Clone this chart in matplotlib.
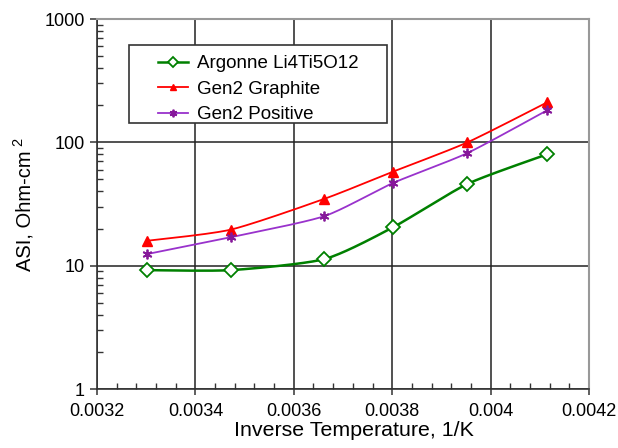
import numpy as np
import matplotlib
matplotlib.use("Agg")
import matplotlib.pyplot as plt
from matplotlib.patches import Rectangle
from matplotlib.ticker import LogLocator, FixedLocator, MultipleLocator, NullFormatter

plt.rcParams['font.family'] = ['Liberation Sans', 'DejaVu Sans']

# Inverse temperature (1/K) for 30, 15, 0, -10, -20, -30 degC
inv_temp = [0.003301, 0.003472, 0.003662, 0.003801, 0.003953, 0.004115]

# Area-specific impedance, Ohm-cm^2
asi_lto = [9.2, 9.2, 11.3, 20.4, 46.0, 80.0]
asi_graphite = [15.9, 19.6, 34.8, 57.7, 100.0, 211.0]
asi_positive = [12.4, 17.0, 25.2, 46.7, 81.9, 182.0]

series_names = ["Argonne Li4Ti5O12", "Gen2 Graphite", "Gen2 Positive"]
x_ticks = [0.0032, 0.0034, 0.0036, 0.0038, 0.004, 0.0042]
x_tick_labels = ["0.0032", "0.0034", "0.0036", "0.0038", "0.004", "0.0042"]
y_ticks = [1, 10, 100, 1000]
y_tick_labels = ["1", "10", "100", "1000"]

W, H = 618, 448
AX_L, AX_R, AX_T, AX_B = 97, 589, 19, 389


def px_to_axes(px, py):
    return (px - AX_L) / (AX_R - AX_L), (AX_B - py) / (AX_B - AX_T)


def smooth(ax, xs, ys, n=30):
    """Catmull-Rom style smoothing done in display space (log y)."""
    pts = ax.transData.transform(np.column_stack([xs, ys]))
    p = np.vstack([pts[0], pts, pts[-1]])
    out = []
    for i in range(1, len(p) - 2):
        p0, p1, p2, p3 = p[i - 1], p[i], p[i + 1], p[i + 2]
        t = np.linspace(0, 1, n, endpoint=False)[:, None]
        m1 = (p2 - p0) / 2.0 * (2.0 / 3.0)
        m2 = (p3 - p1) / 2.0 * (2.0 / 3.0)
        h00 = 2 * t**3 - 3 * t**2 + 1
        h10 = t**3 - 2 * t**2 + t
        h01 = -2 * t**3 + 3 * t**2
        h11 = t**3 - t**2
        out.append(h00 * p1 + h10 * m1 + h01 * p2 + h11 * m2)
    out.append(p[-2][None, :])
    curve = np.vstack(out)
    data = ax.transData.inverted().transform(curve)
    return data[:, 0], data[:, 1]


fig = plt.figure(figsize=(W / 100, H / 100), dpi=100)
ax = fig.add_axes([AX_L / W, 1 - AX_B / H, (AX_R - AX_L) / W, (AX_B - AX_T) / H])
ax.set_yscale('log')
ax.set_xlim(0.0032, 0.0042)
ax.set_ylim(1, 1000)

styles = [
    dict(color='#008000', marker='D', mfc='white', mec='#008000', ms=7, mew=1.3, lw=1.8),
    dict(color='#FF0000', marker='^', mfc='#FF0000', mec='#FF0000', ms=6.5, mew=1.0, lw=1.3),
    dict(color='#9932CC', marker=(6, 2, 0), mfc='#9932CC', mec='#86189A', ms=7, mew=1.3, lw=1.3),
]
data = [asi_lto, asi_graphite, asi_positive]

fig.canvas.draw()
handles = []
for ys, st, name in zip(data, styles, series_names):
    sx, sy = smooth(ax, inv_temp, ys)
    ax.plot(sx, sy, color=st['color'], lw=st['lw'], zorder=3)
    ax.plot(inv_temp, ys, ls='none', marker=st['marker'], mfc=st['mfc'],
            mec=st['mec'], ms=st['ms'], mew=st['mew'], zorder=4)
    h, = ax.plot([], [], color=st['color'], lw=st['lw'], marker=st['marker'],
                 mfc=st['mfc'], mec=st['mec'], ms=st['ms'] - 1.5, mew=st['mew'])
    handles.append(h)

ax.xaxis.set_major_locator(FixedLocator(x_ticks))
ax.set_xticklabels(x_tick_labels)
ax.xaxis.set_minor_locator(MultipleLocator(0.00004))
ax.yaxis.set_major_locator(FixedLocator(y_ticks))
ax.set_yticklabels(y_tick_labels)
ax.yaxis.set_minor_locator(LogLocator(base=10, subs=np.arange(2, 10)))
ax.yaxis.set_minor_formatter(NullFormatter())

ax.grid(True, which='major', color='#222222', lw=1.1, zorder=1)
ax.tick_params(which='major', direction='out', width=1.1, labelsize=13,
               colors='#333333', labelcolor='black')
ax.tick_params(axis='x', which='major', length=4, pad=6)
ax.tick_params(axis='y', which='major', length=5, pad=4)
ax.tick_params(which='minor', direction='in', length=4, width=1.0, colors='#333333')
ax.tick_params(axis='x', which='both', top=False)
ax.tick_params(axis='y', which='both', right=False)

for side in ['left', 'bottom']:
    ax.spines[side].set_color('#333333')
    ax.spines[side].set_linewidth(1.2)
for side in ['top', 'right']:
    ax.spines[side].set_color('#999999')
    ax.spines[side].set_linewidth(1.5)

ax.set_xlabel("Inverse Temperature, 1/K", fontsize=15.4, labelpad=1)
ax.xaxis.label.set_x((354 - AX_L) / (AX_R - AX_L))

# y-axis title with a raised exponent
fig.text(25 / W, 1 - 211 / H, "ASI, Ohm-cm", rotation=90, fontsize=14.5,
         ha='center', va='center')
fig.text(18 / W, 1 - 142 / H, "2", rotation=90, fontsize=10.5,
         ha='center', va='center')

# legend box drawn separately so its padding can be set freely
bx0, by1 = px_to_axes(129, 123)
bx1, by0 = px_to_axes(387, 45)
ax.add_patch(Rectangle((bx0, by1), bx1 - bx0, by0 - by1, transform=ax.transAxes,
                       facecolor='white', edgecolor='#333333', lw=1.2, zorder=5,
                       clip_on=False))
lx, ly = px_to_axes(158, 55)
leg = ax.legend(handles, series_names, loc='upper left', bbox_to_anchor=(lx, ly),
                fontsize=13.5, frameon=False, borderpad=0, borderaxespad=0,
                handlelength=1.6, handletextpad=0.5, labelspacing=0.45)
leg.set_zorder(6)

fig.savefig("out.png", dpi=100)
